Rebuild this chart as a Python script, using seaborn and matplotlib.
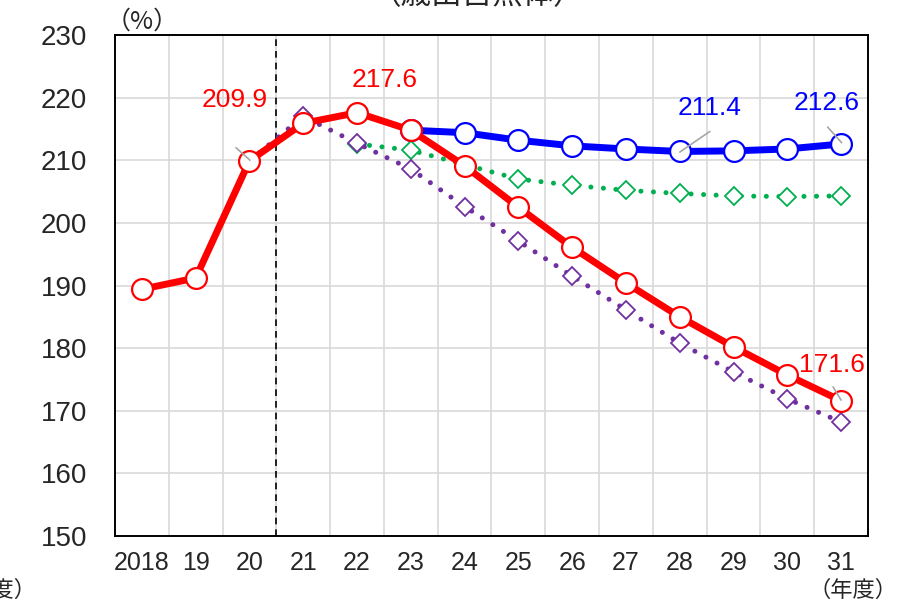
import matplotlib
matplotlib.use("Agg")
import matplotlib.pyplot as plt
import seaborn as sns
import numpy as np
import pandas as pd

# ---- data ----
years = ["2018", "19", "20", "21", "22", "23", "24", "25", "26", "27", "28", "29", "30", "31"]
red_vals = [189.4, 191.2, 209.9, 215.9, 217.6, 214.8, 209.1, 202.5, 196.1, 190.4, 185.0, 180.2, 175.7, 171.6]
blue_start = 5
blue_vals = [214.8, 214.4, 213.2, 212.3, 211.8, 211.4, 211.5, 211.8, 212.6]
green_start = 4
green_vals = [212.6, 211.6, 209.3, 207.0, 206.0, 205.2, 204.7, 204.3, 204.2, 204.3]
purple_start = 2
purple_vals = [209.9, 217.0, 212.7, 208.6, 202.6, 197.1, 191.5, 186.1, 180.8, 176.2, 171.9, 168.2]
yticks = [150, 160, 170, 180, 190, 200, 210, 220, 230]

sns.set_style("white")
plt.rcParams['font.family'] = ['Liberation Sans', 'Noto Sans CJK JP', 'DejaVu Sans']

fig = plt.figure(figsize=(9.03, 6.06), dpi=100)
ax = fig.add_axes([115 / 903, 70 / 606, 753 / 903, 501 / 606])

x_all = np.arange(len(years))

def df_for(start, vals):
    return pd.DataFrame({"x": x_all[start:start + len(vals)], "y": vals})

dot_style = (0, (0.01, 2.5))

sns.lineplot(data=df_for(green_start, green_vals), x="x", y="y", ax=ax, color="#00B050",
             linewidth=3.6, linestyle=dot_style, dash_capstyle="round",
             marker="D", markersize=9.4, markerfacecolor="white", markeredgecolor="#00B050",
             markeredgewidth=1.3, zorder=3)
sns.lineplot(data=df_for(purple_start, purple_vals), x="x", y="y", ax=ax, color="#7030A0",
             linewidth=3.6, linestyle=dot_style, dash_capstyle="round",
             marker="D", markersize=9.4, markerfacecolor="white", markeredgecolor="#7030A0",
             markeredgewidth=1.3, zorder=4)
sns.lineplot(data=df_for(blue_start, blue_vals), x="x", y="y", ax=ax, color="#0000FF",
             linewidth=5, marker="o", markersize=15, markerfacecolor="white",
             markeredgecolor="#0000FF", markeredgewidth=1.6, zorder=5)
sns.lineplot(data=df_for(0, red_vals), x="x", y="y", ax=ax, color="#FF0000",
             linewidth=5, marker="o", markersize=15, markerfacecolor="white",
             markeredgecolor="#FF0000", markeredgewidth=1.6, zorder=6)

ax.set_xlim(-0.5, len(years) - 0.5)
ax.set_ylim(150, 230)
ax.set_yticks(yticks)
ax.set_yticklabels([str(v) for v in yticks], fontsize=20)
ax.set_xticks(x_all)
ax.set_xticklabels(years, fontsize=18)
ax.set_xticks(np.arange(0.5, len(years) - 1, 1), minor=True)
ax.tick_params(axis="both", which="both", length=0)
ax.tick_params(axis="y", pad=20)
ax.tick_params(axis="x", pad=11)
ax.set_xlabel("")
ax.set_ylabel("")

ax.grid(True, which="minor", axis="x", color="#D9D9D9", linewidth=1.2, zorder=0)
ax.grid(True, which="major", axis="y", color="#D9D9D9", linewidth=1.2, zorder=0)
ax.grid(False, which="major", axis="x")
ax.set_axisbelow(True)
for s in ax.spines.values():
    s.set_color("black")
    s.set_linewidth(1.4)

ax.axvline(2.5, color="black", linestyle=(0, (4, 3)), linewidth=1.2, zorder=2)

# annotations
lead = dict(color="#A6A6A6", linewidth=1.2, zorder=10)
fs = 19
ax.plot([1.75, 2.01], [212.0, 210.0], **lead)
ax.text(1.72, 219.6, "209.9", color="#FF0000", fontsize=fs, ha="center", va="center", zorder=11)
ax.text(4.52, 222.8, "217.6", color="#FF0000", fontsize=fs, ha="center", va="center", zorder=11)
ax.plot([10.0, 10.56], [211.3, 214.6], **lead)
ax.text(10.56, 218.3, "211.4", color="#0000FF", fontsize=fs, ha="center", va="center", zorder=11)
ax.plot([12.75, 13.01], [215.3, 212.8], **lead)
ax.text(12.73, 219.1, "212.6", color="#0000FF", fontsize=fs, ha="center", va="center", zorder=11)
ax.plot([12.85, 13.0], [173.8, 171.7], **lead)
ax.text(12.83, 177.3, "171.6", color="#FF0000", fontsize=fs, ha="center", va="center", zorder=11)

cjk = ['Noto Sans CJK JP', 'DejaVu Sans']
fig.text(142 / 903, 1 - 22 / 606, "（%）", fontsize=18, ha="center", va="center", family=cjk)
fig.text(478 / 903, 1 + 4 / 606, "（歳出自然体）", fontsize=22, ha="center", va="center", family=cjk)
fig.text(853 / 903, 1 - 590 / 606, "（年度）", fontsize=16, ha="center", va="center", family=cjk)
fig.text(-8 / 903, 1 - 590 / 606, "（年度）", fontsize=16, ha="center", va="center", family=cjk)

fig.savefig("out.png", dpi=100)
